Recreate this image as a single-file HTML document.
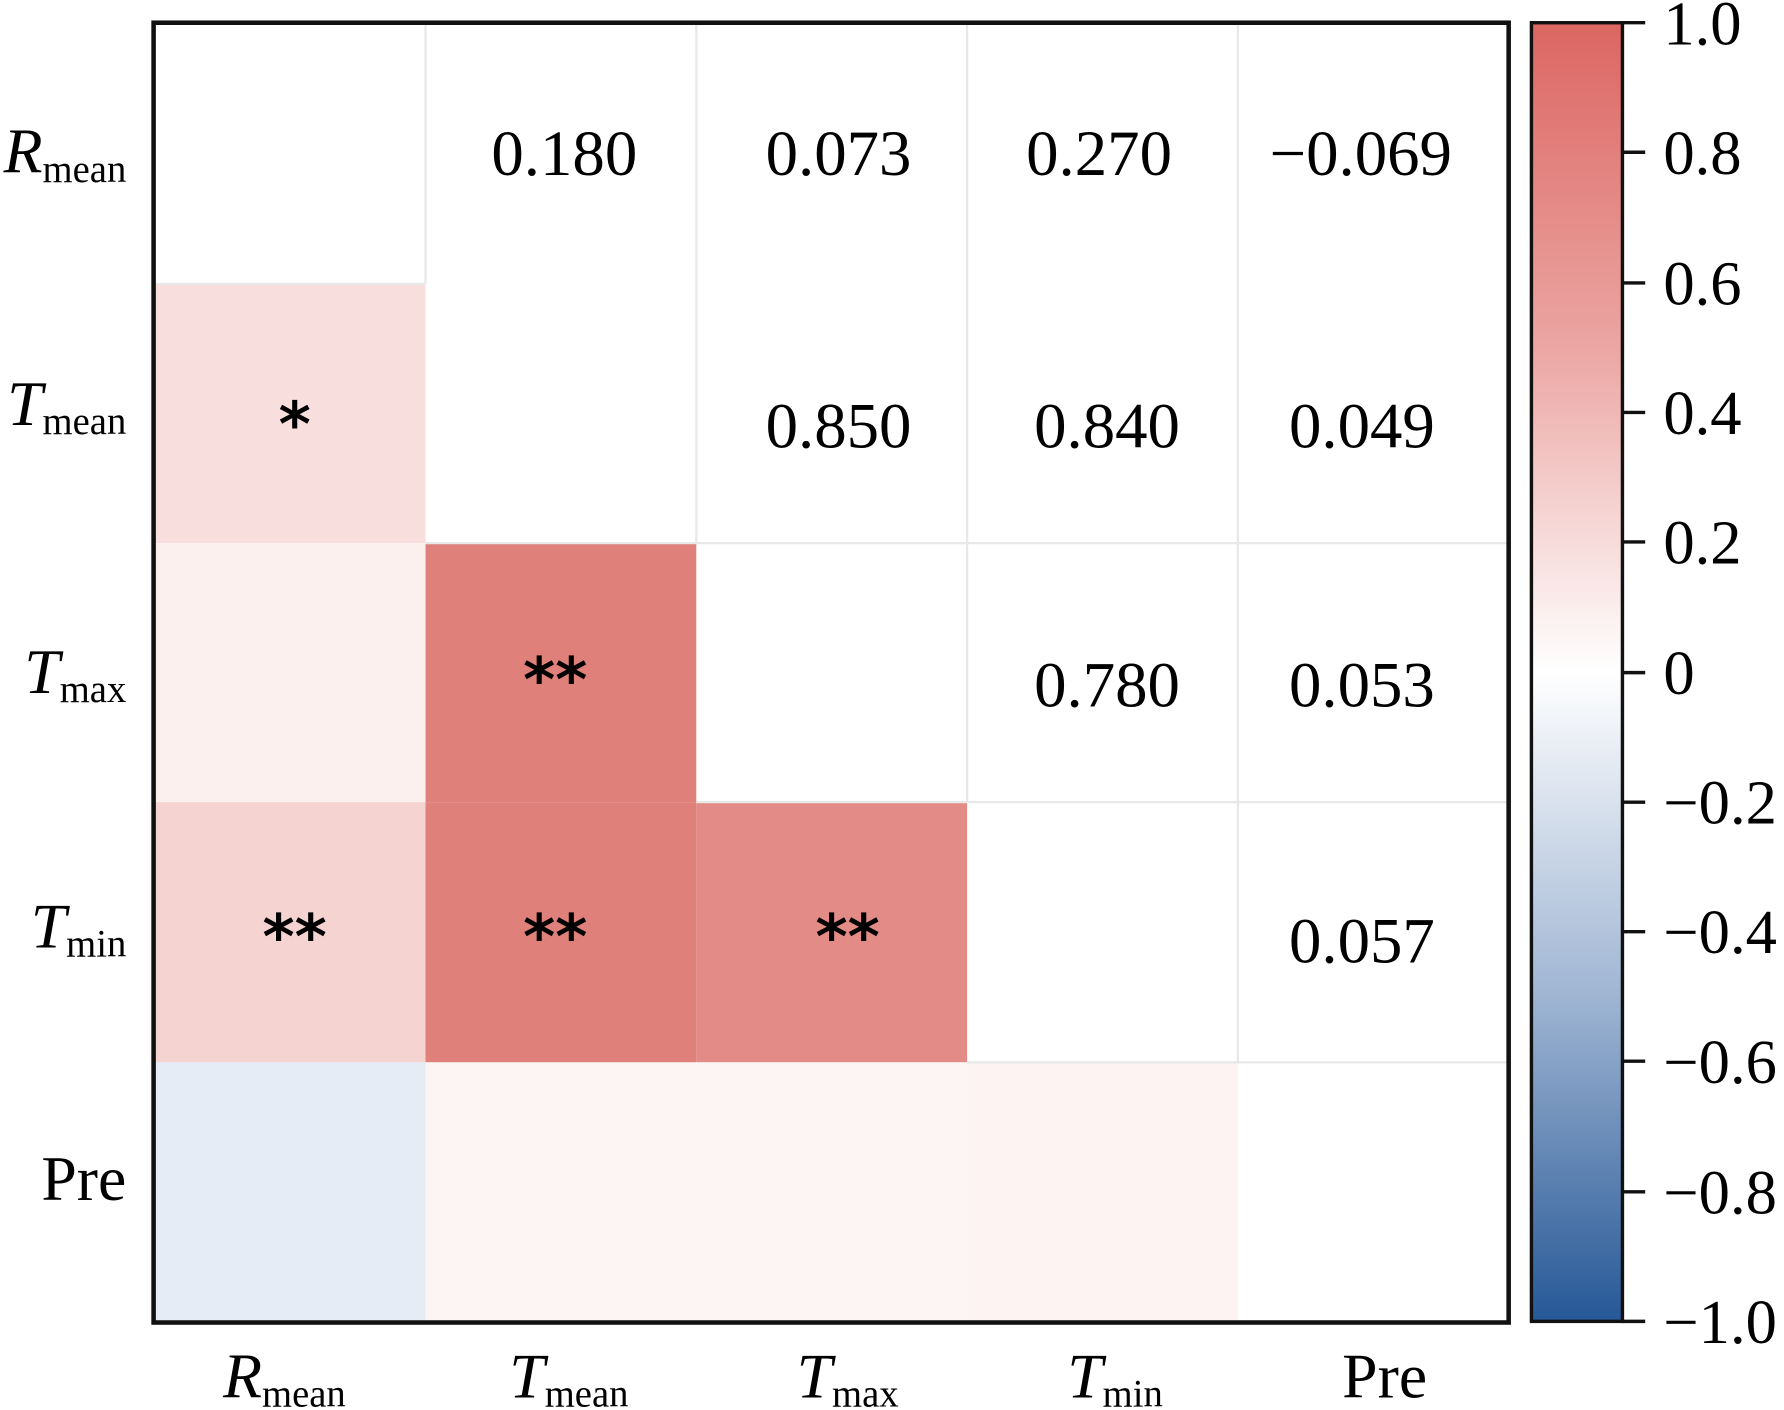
<!DOCTYPE html>
<html><head><meta charset="utf-8"><style>html,body{margin:0;padding:0;background:#fff}svg{display:block}</style></head>
<body>
<svg width="1784" height="1410" viewBox="0 0 1568 1241" preserveAspectRatio="none" xmlns="http://www.w3.org/2000/svg" font-family="'Liberation Serif', serif">
<defs>
<linearGradient id="cb" x1="0" y1="0" x2="0" y2="1">
<stop offset="0" stop-color="#dc6662"/>
<stop offset="0.25" stop-color="#eba6a3"/>
<stop offset="0.5" stop-color="#ffffff"/>
<stop offset="0.75" stop-color="#9fb5d3"/>
<stop offset="1" stop-color="#265896"/>
</linearGradient>
</defs>
<rect width="1568" height="1241" fill="#fff"/>
<rect x="135" y="250" width="239" height="228" fill="#f8dedc"/>
<rect x="135" y="478" width="239" height="228" fill="#fcf0ef"/>
<rect x="135" y="706" width="239" height="229" fill="#f5d3d0"/>
<rect x="135" y="935" width="239" height="229" fill="#e6ecf5"/>
<rect x="374" y="478" width="238" height="228" fill="#e0807b"/>
<rect x="374" y="706" width="238" height="229" fill="#e0807b"/>
<rect x="612" y="706" width="238" height="229" fill="#e38b86"/>
<rect x="374" y="935" width="238" height="229" fill="#fdf5f4"/>
<rect x="612" y="935" width="238" height="229" fill="#fdf5f4"/>
<rect x="850" y="935" width="238" height="229" fill="#fdf3f2"/>
<g stroke="#e8e8e8" stroke-width="2">
<line x1="374" y1="20" x2="374" y2="250"/><line x1="612" y1="20" x2="612" y2="478"/><line x1="850" y1="20" x2="850" y2="706"/><line x1="1088" y1="20" x2="1088" y2="935"/>
<line x1="374" y1="478" x2="1326" y2="478"/><line x1="612" y1="706" x2="1326" y2="706"/><line x1="850" y1="935" x2="1326" y2="935"/><line x1="135" y1="250" x2="374" y2="250"/>
</g>
<rect x="135" y="20" width="1191" height="1144" fill="none" stroke="#111" stroke-width="4"/>
<g font-size="57" text-anchor="middle" fill="#000">
<text x="496" y="154">0.180</text><text x="737" y="154">0.073</text><text x="966" y="154">0.270</text><text x="1196" y="154">−0.069</text>
<text x="737" y="394">0.850</text><text x="973" y="394">0.840</text><text x="1197" y="394">0.049</text>
<text x="973" y="622">0.780</text><text x="1197" y="622">0.053</text>
<text x="1197" y="847">0.057</text>
</g>
<g font-size="54" font-weight="bold" text-anchor="middle" fill="#000" font-family="'DejaVu Sans', sans-serif">
<text x="259" y="392">*</text>
<text x="488" y="617">**</text>
<text x="259" y="843">**</text><text x="488" y="843">**</text><text x="745" y="843">**</text>
</g>
<g font-size="56" text-anchor="end" fill="#000">
<text x="111" y="152"><tspan font-style="italic">R</tspan><tspan font-size="34" dy="8">mean</tspan></text>
<text x="111" y="374"><tspan font-style="italic">T</tspan><tspan font-size="34" dy="8">mean</tspan></text>
<text x="111" y="610"><tspan font-style="italic">T</tspan><tspan font-size="34" dy="8">max</tspan></text>
<text x="111" y="834"><tspan font-style="italic">T</tspan><tspan font-size="34" dy="8">min</tspan></text>
<text x="111" y="1056">Pre</text>
</g>
<g font-size="56" text-anchor="middle" fill="#000">
<text x="250" y="1230"><tspan font-style="italic">R</tspan><tspan font-size="34" dy="8">mean</tspan></text>
<text x="500" y="1230"><tspan font-style="italic">T</tspan><tspan font-size="34" dy="8">mean</tspan></text>
<text x="745" y="1230"><tspan font-style="italic">T</tspan><tspan font-size="34" dy="8">max</tspan></text>
<text x="980" y="1230"><tspan font-style="italic">T</tspan><tspan font-size="34" dy="8">min</tspan></text>
<text x="1217" y="1230">Pre</text>
</g>
<rect x="1346" y="20" width="80" height="1143" fill="url(#cb)" stroke="#111" stroke-width="3"/>
<g stroke="#111" stroke-width="3">
<line x1="1426" y1="20" x2="1446" y2="20"/><line x1="1426" y1="134" x2="1446" y2="134"/><line x1="1426" y1="249" x2="1446" y2="249"/><line x1="1426" y1="363" x2="1446" y2="363"/><line x1="1426" y1="477" x2="1446" y2="477"/><line x1="1426" y1="592" x2="1446" y2="592"/><line x1="1426" y1="706" x2="1446" y2="706"/><line x1="1426" y1="820" x2="1446" y2="820"/><line x1="1426" y1="934" x2="1446" y2="934"/><line x1="1426" y1="1049" x2="1446" y2="1049"/><line x1="1426" y1="1163" x2="1446" y2="1163"/>
</g>
<g font-size="55" fill="#000">
<text x="1462" y="39">1.0</text><text x="1462" y="153">0.8</text><text x="1462" y="268">0.6</text><text x="1462" y="382">0.4</text><text x="1462" y="496">0.2</text><text x="1462" y="611">0</text>
<text x="1462" y="725">−0.2</text><text x="1462" y="839">−0.4</text><text x="1462" y="953">−0.6</text><text x="1462" y="1068">−0.8</text><text x="1462" y="1182">−1.0</text>
</g>
</svg>
</body></html>
